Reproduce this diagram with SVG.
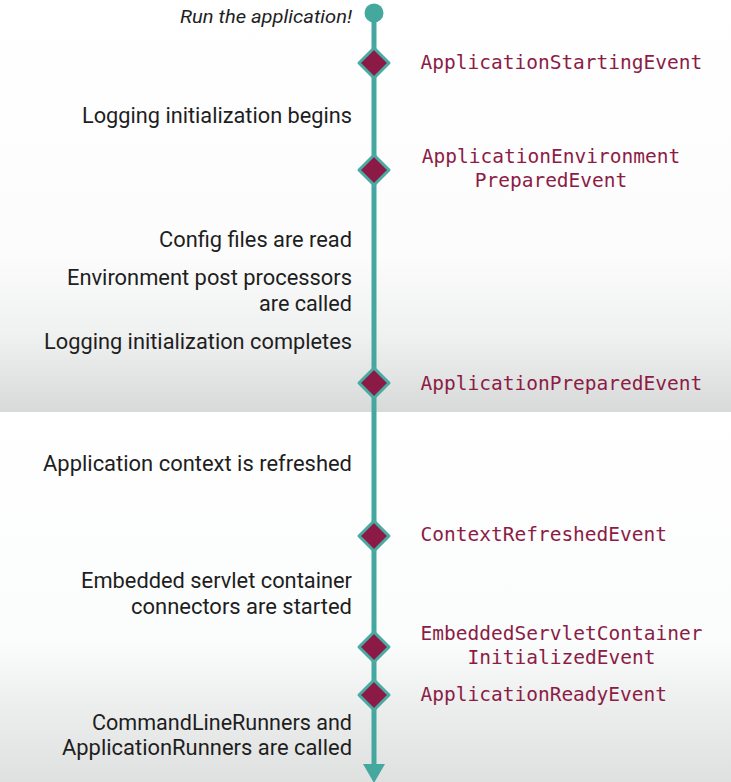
<svg xmlns="http://www.w3.org/2000/svg" width="731" height="782" viewBox="0 0 731 782">
  <defs>
    <linearGradient id="bgTop" x1="0" y1="0" x2="0" y2="1">
      <stop offset="0" stop-color="#ffffff"/>
      <stop offset="0.62" stop-color="#fcfcfc"/>
      <stop offset="0.82" stop-color="#eff0f0"/>
      <stop offset="1" stop-color="#d8d9d9"/>
    </linearGradient>
    <linearGradient id="bgBottom" x1="0" y1="0" x2="0" y2="1">
      <stop offset="0" stop-color="#ffffff"/>
      <stop offset="0.62" stop-color="#fbfcfc"/>
      <stop offset="0.8" stop-color="#eceded"/>
      <stop offset="1" stop-color="#dfe0e0"/>
    </linearGradient>
    <marker id="arrow" viewBox="0 0 19 22" refX="0" refY="11" markerWidth="19" markerHeight="22" markerUnits="userSpaceOnUse" orient="auto">
      <path d="M0,0 L19,11 L0,22 Z" fill="#45a89f"/>
    </marker>
  </defs>
  <style>
    .lt { font-family: Roboto, "Open Sans", sans-serif; font-size: 22px; fill: #1e1e1e; text-anchor: end; }
    .it { font-family: Roboto, "Open Sans", sans-serif; font-size: 18px; font-style: italic; fill: #1e1e1e; text-anchor: end; }
    .ev { font-family: "DejaVu Sans Mono", "Liberation Mono", monospace; font-size: 19.5px; fill: #8c1c46; }
    .evc { font-family: "DejaVu Sans Mono", "Liberation Mono", monospace; font-size: 19.5px; fill: #8c1c46; text-anchor: middle; }
    .spine { stroke: #45a89f; stroke-width: 5; fill: none; }
    .dia { fill: #8c1a47; stroke: #4aaba2; stroke-width: 3; stroke-linejoin: round; }
    .start { fill: #45a89f; }
  </style>

  <g id="background">
    <rect x="0" y="0" width="731" height="412" fill="url(#bgTop)"/>
    <rect x="0" y="412" width="731" height="370" fill="url(#bgBottom)"/>
  </g>

  <g id="connectors">
    <line class="spine" x1="374" y1="13" x2="374" y2="63"/>
    <line class="spine" x1="374" y1="63" x2="374" y2="170"/>
    <line class="spine" x1="374" y1="170" x2="374" y2="383"/>
    <line class="spine" x1="374" y1="383" x2="374" y2="536"/>
    <line class="spine" x1="374" y1="536" x2="374" y2="647"/>
    <line class="spine" x1="374" y1="647" x2="374" y2="695"/>
    <line class="spine" x1="374" y1="695" x2="374" y2="764" marker-end="url(#arrow)"/>
  </g>

  <g id="start">
    <circle class="start" cx="374" cy="13" r="9.5"/>
    <text class="it" x="352" y="23" textLength="172" lengthAdjust="spacingAndGlyphs">Run the application!</text>
  </g>

  <g id="step-logging-begins">
    <text class="lt" x="352" y="123" textLength="270" lengthAdjust="spacingAndGlyphs">Logging initialization begins</text>
  </g>

  <g id="step-config">
    <text class="lt" x="352" y="246.5" textLength="193" lengthAdjust="spacingAndGlyphs">Config files are read</text>
  </g>

  <g id="step-env-post">
    <text class="lt" x="352" y="285" textLength="285" lengthAdjust="spacingAndGlyphs">Environment post processors</text>
    <text class="lt" x="352" y="311" textLength="93" lengthAdjust="spacingAndGlyphs">are called</text>
  </g>

  <g id="step-logging-completes">
    <text class="lt" x="352" y="348.5" textLength="308" lengthAdjust="spacingAndGlyphs">Logging initialization completes</text>
  </g>

  <g id="step-context-refresh">
    <text class="lt" x="352" y="470.5" textLength="309" lengthAdjust="spacingAndGlyphs">Application context is refreshed</text>
  </g>

  <g id="step-servlet-connectors">
    <text class="lt" x="352" y="588" textLength="271" lengthAdjust="spacingAndGlyphs">Embedded servlet container</text>
    <text class="lt" x="352" y="613.5" textLength="221" lengthAdjust="spacingAndGlyphs">connectors are started</text>
  </g>

  <g id="step-runners">
    <text class="lt" x="352" y="729.5" textLength="260" lengthAdjust="spacingAndGlyphs">CommandLineRunners and</text>
    <text class="lt" x="352" y="755" textLength="290" lengthAdjust="spacingAndGlyphs">ApplicationRunners are called</text>
  </g>

  <g id="event-starting">
    <polygon class="dia" points="374,48 389,63 374,78 359,63"/>
    <text class="ev" x="420.5" y="68.5">ApplicationStartingEvent</text>
  </g>

  <g id="event-env-prepared">
    <polygon class="dia" points="374,155 389,170 374,185 359,170"/>
    <text class="evc" x="551" y="163">ApplicationEnvironment</text>
    <text class="evc" x="551" y="187">PreparedEvent</text>
  </g>

  <g id="event-app-prepared">
    <polygon class="dia" points="374,368 389,383 374,398 359,383"/>
    <text class="ev" x="420.5" y="390">ApplicationPreparedEvent</text>
  </g>

  <g id="event-context-refreshed">
    <polygon class="dia" points="374,521 389,536 374,551 359,536"/>
    <text class="ev" x="420.5" y="541">ContextRefreshedEvent</text>
  </g>

  <g id="event-servlet-initialized">
    <polygon class="dia" points="374,632 389,647 374,662 359,647"/>
    <text class="evc" x="561.5" y="639.5">EmbeddedServletContainer</text>
    <text class="evc" x="561.5" y="664">InitializedEvent</text>
  </g>

  <g id="event-ready">
    <polygon class="dia" points="374,680 389,695 374,710 359,695"/>
    <text class="ev" x="420.5" y="701">ApplicationReadyEvent</text>
  </g>
</svg>
